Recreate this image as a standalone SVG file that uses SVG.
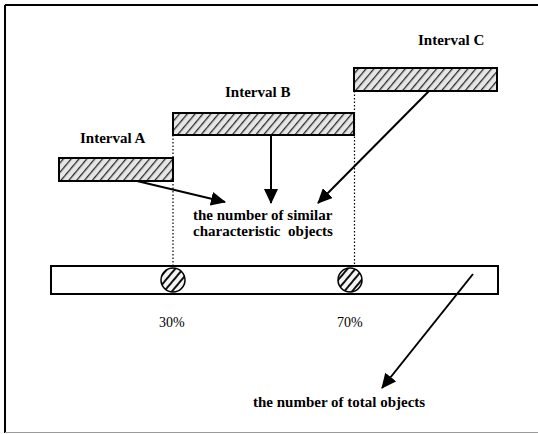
<svg xmlns="http://www.w3.org/2000/svg" width="538" height="434" viewBox="0 0 538 434">
  <style>
    .lbl { font-family: "Liberation Serif", "Times New Roman", serif; font-size: 15px; font-weight: bold; fill: #000; }
    .pct { font-family: "Liberation Serif", "Times New Roman", serif; font-size: 14px; fill: #000; }
    .bar { fill: url(#hatch); stroke: #000; stroke-width: 2; }
    .guide { stroke: #000; stroke-width: 1.2; stroke-dasharray: 1.5 2; fill: none; }
    .conn { stroke: #000; stroke-width: 2; fill: none; marker-end: url(#arrow); }
  </style>
  <defs>
    <pattern id="hatch" patternUnits="userSpaceOnUse" width="6" height="6" patternTransform="rotate(40)">
      <rect width="6" height="6" fill="#e6e6e6"/>
      <line x1="0" y1="0" x2="0" y2="6" stroke="#2a2a2a" stroke-width="2.6"/>
    </pattern>
    <pattern id="dot-hatch" patternUnits="userSpaceOnUse" width="6" height="6" patternTransform="rotate(40)">
      <rect width="6" height="6" fill="#f4f4f4"/>
      <line x1="0" y1="0" x2="0" y2="6" stroke="#111" stroke-width="4"/>
    </pattern>
    <marker id="arrow" markerWidth="15" markerHeight="14" refX="14" refY="7" orient="auto" markerUnits="userSpaceOnUse">
      <path d="M0,0 L15,7 L0,14 Z" fill="#000"/>
    </marker>
  </defs>

  <!-- frame -->
  <rect x="0" y="0" width="538" height="434" fill="#fff"/>
  <line x1="5" y1="5" x2="538" y2="5" stroke="#000" stroke-width="2"/>
  <line x1="5" y1="5" x2="5" y2="433" stroke="#000" stroke-width="2"/>
  <line x1="5" y1="432.5" x2="538" y2="432.5" stroke="#999" stroke-width="1"/>

  <!-- guides -->
  <g id="guides">
    <line class="guide" x1="173" y1="135" x2="173" y2="266"/>
    <line class="guide" x1="354.5" y1="91" x2="354.5" y2="266"/>
  </g>

  <g id="interval-a">
    <rect class="bar" x="59" y="158" width="114" height="23"/>
    <text class="lbl" x="80" y="143">Interval A</text>
  </g>
  <g id="interval-b">
    <rect class="bar" x="173" y="113" width="181" height="22"/>
    <text class="lbl" x="225" y="97">Interval B</text>
  </g>
  <g id="interval-c">
    <rect class="bar" x="354" y="68" width="143" height="23"/>
    <text class="lbl" x="418" y="45">Interval C</text>
  </g>

  <g id="similar">
    <text class="lbl" x="193" y="220">the number of similar</text>
    <text class="lbl" x="193" y="236" xml:space="preserve">characteristic  objects</text>
  </g>

  <g id="total-bar">
    <rect x="51" y="266" width="447" height="28" fill="#fff" stroke="#000" stroke-width="2"/>
    <circle cx="173" cy="280" r="12" fill="url(#dot-hatch)" stroke="#000" stroke-width="1.5"/>
    <circle cx="350" cy="280" r="12" fill="url(#dot-hatch)" stroke="#000" stroke-width="1.5"/>
    <text class="pct" x="159" y="327">30%</text>
    <text class="pct" x="337" y="327">70%</text>
  </g>

  <g id="total">
    <text class="lbl" x="253" y="407">the number of total objects</text>
  </g>

  <g id="connectors">
    <line class="conn" x1="137" y1="181" x2="225" y2="202"/>
    <line class="conn" x1="271" y1="135" x2="271" y2="203"/>
    <line class="conn" x1="429" y1="91" x2="318" y2="203"/>
    <line class="conn" x1="473" y1="274" x2="382" y2="388"/>
  </g>
</svg>
